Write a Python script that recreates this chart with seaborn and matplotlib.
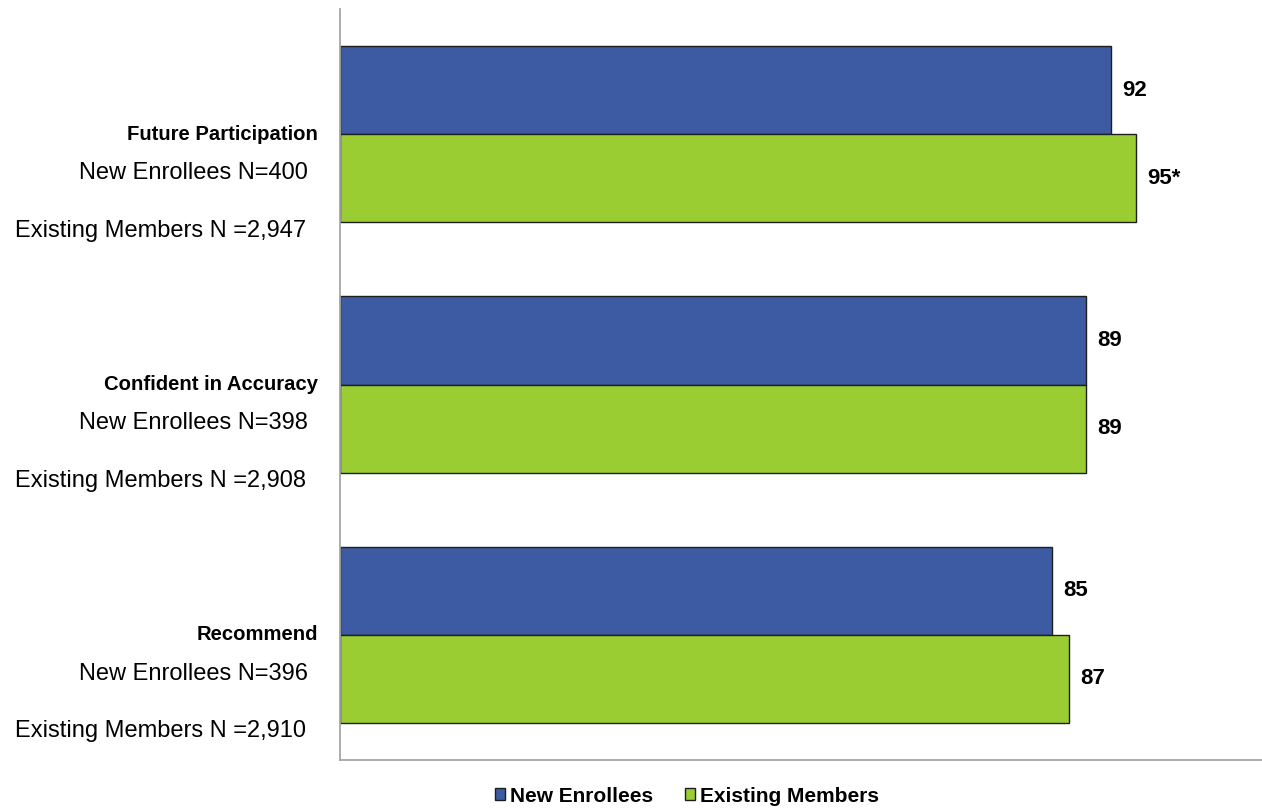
import matplotlib
matplotlib.use("Agg")
import matplotlib.pyplot as plt
import seaborn as sns
import pandas as pd

# Survey measures and per-group sample sizes
measures = ["Future Participation", "Confident in Accuracy", "Recommend"]
series = ["New Enrollees", "Existing Members"]
new_enrollees = [92, 89, 85]
existing_members = [95, 89, 87]
value_labels_new = ["92", "89", "85"]
value_labels_existing = ["95*", "89", "87"]
n_new = ["New Enrollees N=400", "New Enrollees N=398", "New Enrollees N=396"]
n_existing = ["Existing Members N =2,947", "Existing Members N =2,908", "Existing Members N =2,910"]

colors = ["#3D5BA3", "#9ACD32"]

df = pd.DataFrame({
    "measure": measures * 2,
    "group": [series[0]] * 3 + [series[1]] * 3,
    "value": new_enrollees + existing_members,
})

sns.set_theme(style="white")
plt.rcParams["font.family"] = ["Liberation Sans", "DejaVu Sans"]
plt.rcParams["text.color"] = "black"

fig = plt.figure(figsize=(12.62, 8.10), dpi=100)
ax = fig.add_axes([340 / 1262, 50 / 810, 922 / 1262, 751 / 810])

sns.barplot(data=df, y="measure", x="value", hue="group", order=measures,
            hue_order=series, palette=colors, saturation=1, orient="h", width=0.704,
            edgecolor="#1E1E1E", linewidth=1.0, ax=ax, legend=False)

ax.set_xlim(0, 110)
ax.set_ylim(2.5, -0.5)
ax.set_xlabel("")
ax.set_ylabel("")
ax.set_xticks([])
ax.set_yticks([])
for side in ["top", "right"]:
    ax.spines[side].set_visible(False)
for side in ["left", "bottom"]:
    ax.spines[side].set_color("#A6A6A6")
    ax.spines[side].set_linewidth(1.3)

# Value labels at the end of each bar
for container, labels in zip(ax.containers, [value_labels_new, value_labels_existing]):
    ax.bar_label(container, labels=labels, padding=8, fontsize=16,
                 fontweight="bold", color="black")

# Category labels with sample sizes
for i, (m, a, b) in enumerate(zip(measures, n_new, n_existing)):
    ax.annotate(m, xy=(0, i), xycoords=("axes fraction", "data"),
                xytext=(-16, 0), textcoords="offset points",
                ha="right", va="center", fontsize=14.6, fontweight="bold",
                color="black")
    ax.annotate(a, xy=(0, i), xycoords=("axes fraction", "data"),
                xytext=(-23, -28), textcoords="offset points",
                ha="right", va="center", fontsize=17, color="black")
    ax.annotate(b, xy=(0, i), xycoords=("axes fraction", "data"),
                xytext=(-24.5, -69.5), textcoords="offset points",
                ha="right", va="center", fontsize=17, color="black")

handles = [plt.Rectangle((0, 0), 1, 1, facecolor=c, edgecolor="#1E1E1E", linewidth=1)
           for c in colors]
leg = fig.legend(handles, series, loc="center", bbox_to_anchor=(687 / 1262, 1 - 796 / 810),
                 ncol=2, frameon=False, handlelength=0.5, handleheight=0.5,
                 handletextpad=0.25, columnspacing=1.5,
                 prop={"weight": "bold", "size": 15})
for t in leg.get_texts():
    t.set_color("black")

fig.savefig("out.png", dpi=100)
